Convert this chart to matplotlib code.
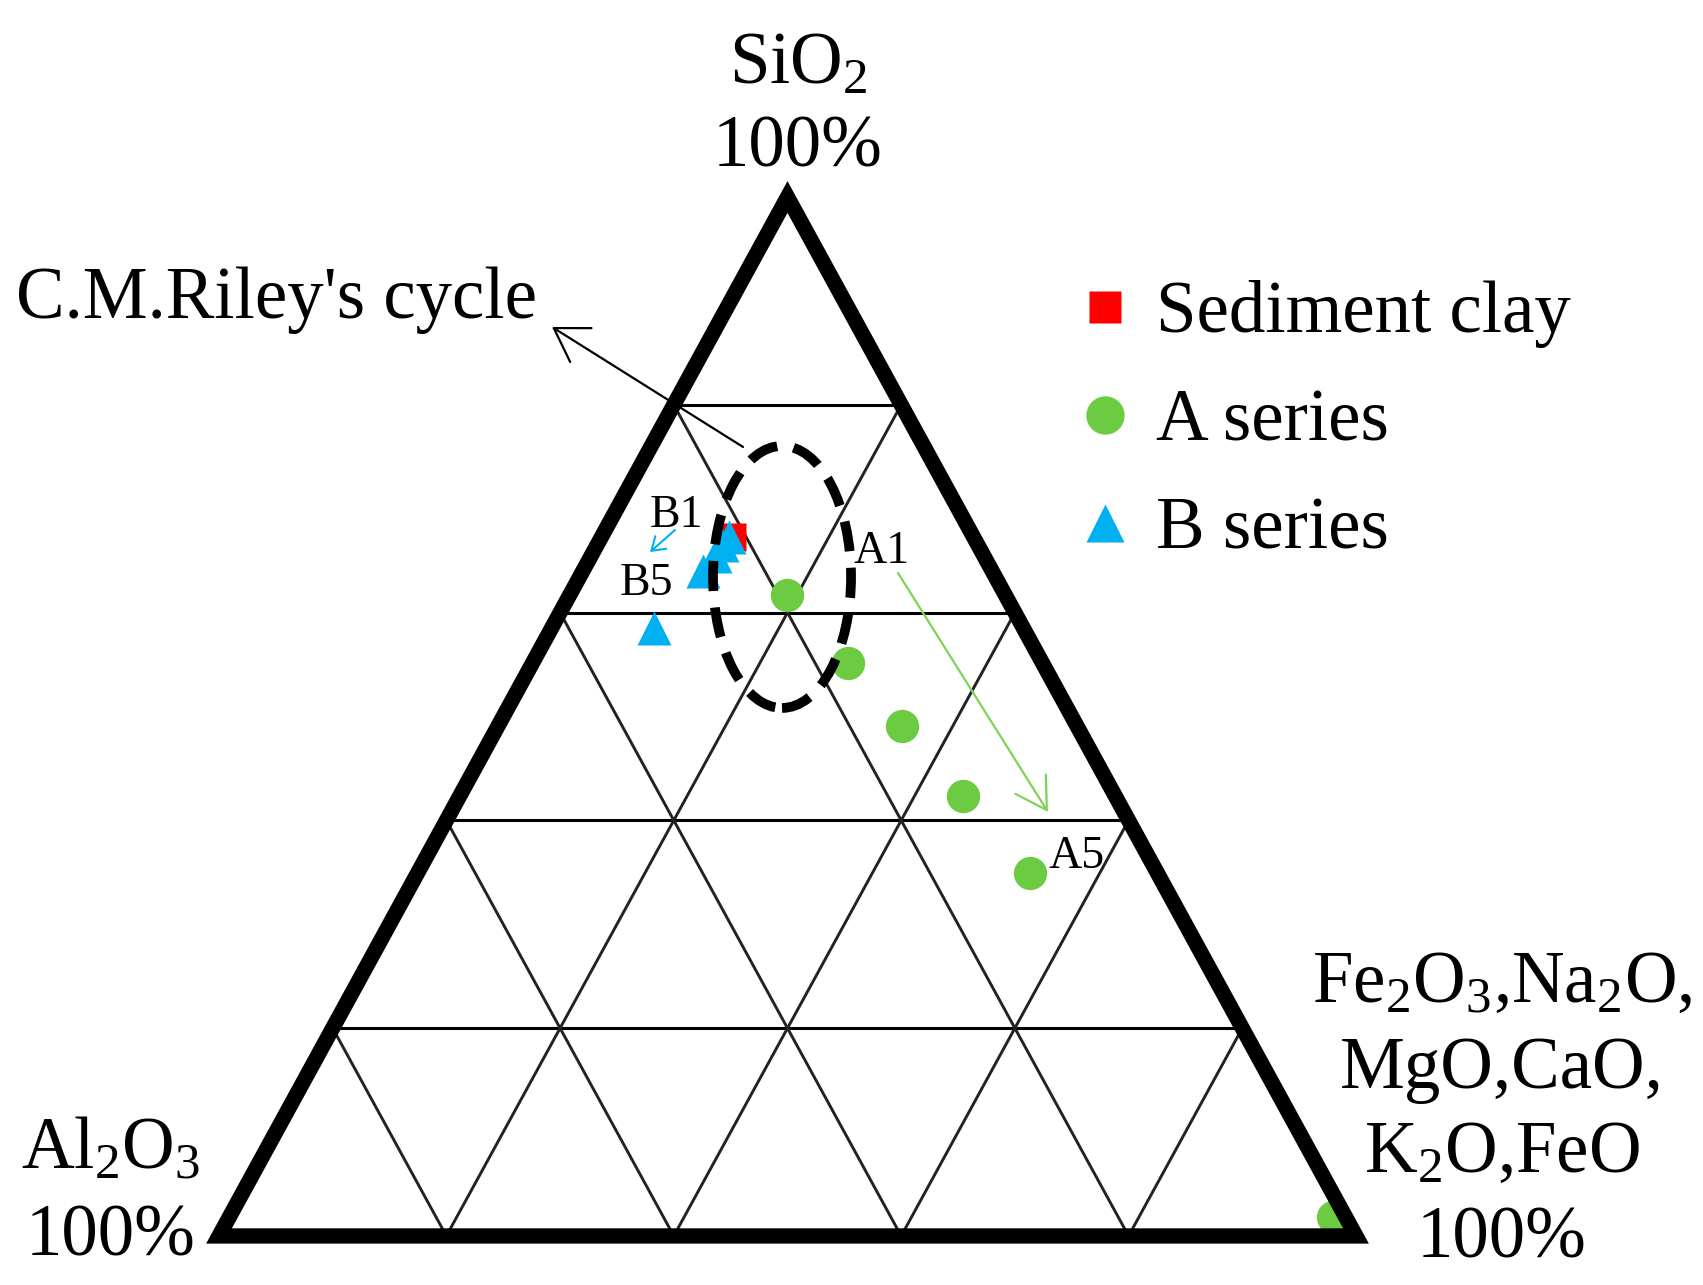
"""Ternary diagram SiO2 - Al2O3 - (Fe2O3, Na2O, MgO, CaO, K2O, FeO)."""
import matplotlib
matplotlib.use("Agg")
import matplotlib.pyplot as plt
from matplotlib.patches import Ellipse, Polygon
import numpy as np

plt.rcParams["font.family"] = ["Liberation Serif", "DejaVu Serif"]
plt.rcParams["mathtext.fontset"] = "custom"
plt.rcParams["mathtext.rm"] = "Liberation Serif"
plt.rcParams["mathtext.default"] = "regular"

# compositions in %: SiO2, Al2O3, other oxides
CLAY_SIO2 = [67.3]
CLAY_AL2O3 = [21.2]
CLAY_OTHER = [11.5]

A_SIO2 = [61.7, 55.1, 49.1, 42.3, 34.9, 1.8]
A_AL2O3 = [19.2, 17.1, 15.4, 13.4, 11.2, 1.1]
A_OTHER = [19.1, 27.8, 35.5, 44.3, 53.9, 97.1]

B_SIO2 = [67.3, 66.5, 65.4, 64.0, 58.5]
B_AL2O3 = [21.5, 22.5, 23.7, 25.4, 32.5]
B_OTHER = [11.2, 11.0, 10.9, 10.6, 9.0]

GRID_STEPS = [0.2, 0.4, 0.6, 0.8]

GREEN = "#6CCB40"
BLUE = "#00B0F0"
BIG = 52.5
SMALL = 33


def to_xy(sio2, al2o3, other):
    s = np.asarray(sio2, float)
    a = np.asarray(al2o3, float)
    o = np.asarray(other, float)
    tot = s + a + o
    s, o = s / tot, o / tot
    return o + 0.5 * s, s


fig = plt.figure(figsize=(17.03, 12.85), dpi=100)
ax = fig.add_axes([0, 0, 1, 1])
ax.set_xlim(-0.1926, 1.3052)
ax.set_ylim(-0.0472, 1.1896)
ax.axis("off")

# grid
for t in GRID_STEPS:
    ax.plot([t / 2, 1 - t / 2], [t, t], color="black", lw=2.2, zorder=1)
    ax.plot([t, t / 2], [0, t], color="#222222", lw=2.1, zorder=1)
    ax.plot([t, (1 + t) / 2], [0, 1 - t], color="#222222", lw=2.1, zorder=1)

ax.add_patch(Polygon([(0, 0), (1, 0), (0.5, 1)], closed=True, fill=False,
                     lw=11, edgecolor="black", joinstyle="miter", zorder=5))

x, y = to_xy(CLAY_SIO2, CLAY_AL2O3, CLAY_OTHER)
ax.plot(x, y, ls="none", marker="s", ms=20, color="red", mec="none",
        label="Sediment clay", zorder=3)
x, y = to_xy(A_SIO2, A_AL2O3, A_OTHER)
ax.plot(x, y, ls="none", marker="o", ms=24, color=GREEN, mec="none",
        label="A series", zorder=3)
x, y = to_xy(B_SIO2, B_AL2O3, B_OTHER)
ax.plot(x, y, ls="none", marker="^", ms=24, color=BLUE, mec="none",
        label="B series", zorder=3)

# Riley's cycle
ax.add_patch(Ellipse((0.4952, 0.6343), 0.1214, 0.2522, fill=False,
                     edgecolor="black", lw=7, linestyle=(0, (3.1, 1.7)),
                     zorder=4))
ax.annotate("", xy=(0.2929, 0.8749), xytext=(0.4609, 0.7594),
            arrowprops=dict(arrowstyle="->,head_length=1.15,head_width=0.72",
                            color="black", lw=1.6, mutation_scale=20,
                            shrinkA=0, shrinkB=0), zorder=4)
ax.text(-0.1785, 0.8835, "C.M.Riley's cycle", fontsize=BIG, ha="left",
        va="baseline")

# series trend arrows
ax.annotate("", xy=(0.7291, 0.4081), xytext=(0.5972, 0.6381),
            arrowprops=dict(arrowstyle="->,head_length=1.1,head_width=0.65",
                            color="#7ED35A", lw=1.6, mutation_scale=20,
                            shrinkA=0, shrinkB=0), zorder=4)
ax.annotate("", xy=(0.3791, 0.6583), xytext=(0.4011, 0.6795),
            arrowprops=dict(arrowstyle="->,head_length=0.6,head_width=0.4",
                            color=BLUE, lw=1.5, mutation_scale=15,
                            shrinkA=0, shrinkB=0), zorder=4)

for lab, lx, ly in [("B1", 0.4019, 0.6824), ("B5", 0.3755, 0.6169),
                    ("A1", 0.5831, 0.6477), ("A5", 0.7546, 0.3542)]:
    ax.text(lx, ly, lab, fontsize=SMALL, ha="center", va="baseline", zorder=6)

# vertex labels
ax.text(0.5092, 1.1088, "SiO$_2$", fontsize=BIG, ha="center", va="baseline")
ax.text(0.5092, 1.0298, "100%", fontsize=BIG, ha="center", va="baseline")
ax.text(-0.0950, 0.0654, "Al$_2$O$_3$", fontsize=BIG, ha="center", va="baseline")
ax.text(-0.0950, -0.0192, "100%", fontsize=BIG, ha="center", va="baseline")
right_lines = ["Fe$_2$O$_3$,Na$_2$O,", "MgO,CaO,", "K$_2$O,FeO", "100%"]
for txt, ly in zip(right_lines, [0.2252, 0.1424, 0.0616, -0.0212]):
    ax.text(1.1284, ly, txt, fontsize=BIG, ha="center", va="baseline")

ax.legend(loc="upper left", bbox_to_anchor=(0.638, 0.782), frameon=False,
          fontsize=BIG, borderpad=0, handlelength=0.5, handletextpad=0.45,
          labelspacing=0.56, borderaxespad=0, markerscale=1.15)

fig.savefig("out.png", dpi=100)
